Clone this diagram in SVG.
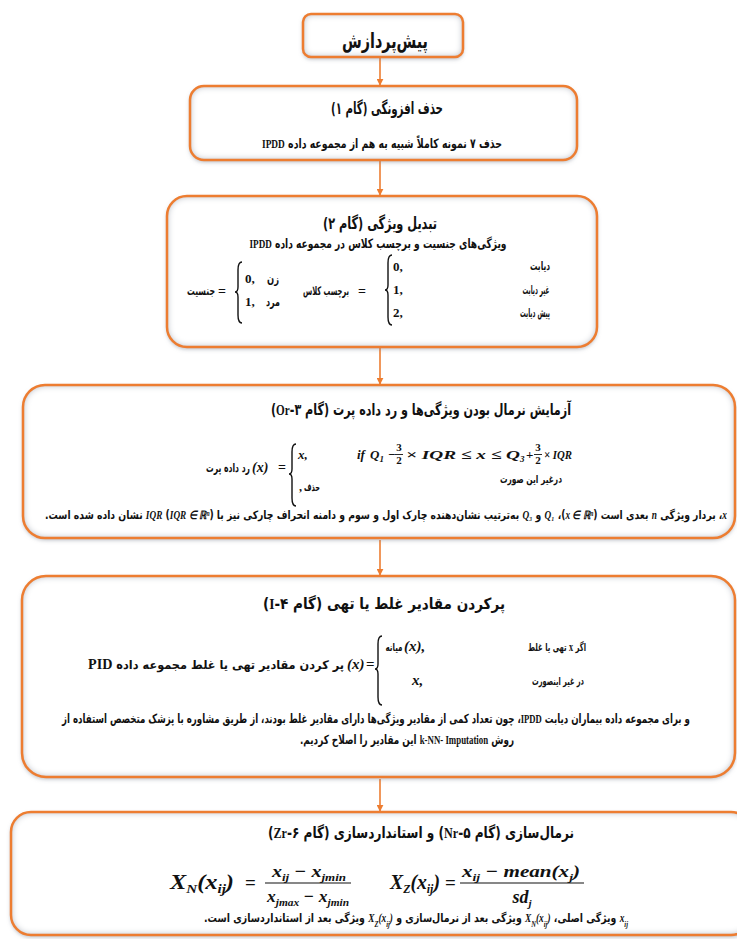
<svg xmlns="http://www.w3.org/2000/svg" width="737" height="939" viewBox="0 0 737 939">
<defs>
<style>
.box{fill:#fff;filter:url(#inset)}
.edge{fill:none;stroke:#ED7D31;stroke-width:2.5}
.fa{font-family:"DejaVu Sans",sans-serif;font-weight:bold;fill:#111;direction:rtl;unicode-bidi:embed}
.m{font-family:"Liberation Serif",serif;font-weight:bold;font-style:italic;fill:#111}
.mr{font-family:"Liberation Serif",serif;font-weight:bold;fill:#111}
.br{fill:none;stroke:#111;stroke-width:1.4}
.conn{stroke:#ED7D31;stroke-width:1.6;fill:none;marker-end:url(#ah)}
</style>
<marker id="ah" viewBox="0 0 10 10" refX="9" refY="5" markerWidth="7" markerHeight="7" markerUnits="userSpaceOnUse" orient="auto"><path d="M0,0 L10,5 L0,10 z" fill="#ED7D31"/></marker>
<filter id="inset" x="-5%" y="-10%" width="110%" height="125%">
<feGaussianBlur in="SourceAlpha" stdDeviation="2" result="b1"/>
<feOffset in="b1" dy="2" result="o1"/>
<feFlood flood-color="#7f8794" flood-opacity="0.6"/>
<feComposite in2="o1" operator="in" result="drop"/>
<feFlood flood-color="#8e99ab" result="c"/>
<feComposite in="c" in2="SourceAlpha" operator="out" result="outside"/>
<feGaussianBlur in="outside" stdDeviation="3.5" result="ob"/>
<feComposite in="ob" in2="SourceAlpha" operator="in" result="inner"/>
<feMerge><feMergeNode in="drop"/><feMergeNode in="SourceGraphic"/><feMergeNode in="inner"/></feMerge>
</filter>
</defs>
<rect width="737" height="939" fill="#fff"/>

<g id="connectors">
<line class="conn" x1="380" y1="57" x2="380" y2="85"/>
<line class="conn" x1="380" y1="160" x2="380" y2="195"/>
<line class="conn" x1="380" y1="347" x2="380" y2="384"/>
<line class="conn" x1="380" y1="540" x2="380" y2="575"/>
<line class="conn" x1="380" y1="779" x2="380" y2="811"/>
</g>

<g id="node-preprocess">
<rect class="box" x="303" y="14" width="160" height="43" rx="8"/>
<rect class="edge" x="303" y="14" width="160" height="43" rx="8"/>
<text class="fa" x="385" y="48" font-size="21" text-anchor="middle" textLength="86" lengthAdjust="spacingAndGlyphs">پیش‌پردازش</text>
</g>

<g id="node-step1">
<rect class="box" x="190" y="86" width="387" height="74" rx="14"/>
<rect class="edge" x="190" y="86" width="387" height="74" rx="14"/>
<text class="fa" x="387" y="114" font-size="16.5" text-anchor="middle" textLength="112" lengthAdjust="spacingAndGlyphs">حذف افزونگی (گام ۱)</text>
<text class="fa" x="382" y="148" font-size="13" text-anchor="middle" textLength="240" lengthAdjust="spacingAndGlyphs">حذف ۷ نمونه کاملاً شبیه به هم از مجموعه داده <tspan class="mr">IPDD</tspan></text>
</g>

<g id="node-step2">
<rect class="box" x="167" y="196" width="430" height="151" rx="20"/>
<rect class="edge" x="167" y="196" width="430" height="151" rx="20"/>
<text class="fa" x="380" y="229" font-size="16.5" text-anchor="middle" textLength="114" lengthAdjust="spacingAndGlyphs">تبدیل ویژگی (گام ۲)</text>
<text class="fa" x="378" y="248" font-size="13" text-anchor="middle" textLength="257" lengthAdjust="spacingAndGlyphs">ویژگی‌های جنسیت و برچسب کلاس در مجموعه داده <tspan class="mr" font-weight="normal">IPDD</tspan></text>
<text class="fa" x="201" y="295" font-size="12" text-anchor="middle" textLength="28" lengthAdjust="spacingAndGlyphs">جنسیت</text>
<text class="mr" x="222" y="296" font-size="14" text-anchor="middle">=</text>
<path class="br" d="M242,262 Q238,262 238,270 L238,287 Q238,292 235,292 Q238,292 238,297 L238,315 Q238,323 242,323"/>
<text class="mr" x="245" y="283" font-size="13" font-weight="normal">0,</text>
<text class="fa" x="273" y="283" font-size="12" text-anchor="middle" textLength="12" lengthAdjust="spacingAndGlyphs">زن</text>
<text class="mr" x="245" y="306" font-size="13" font-weight="normal">1,</text>
<text class="fa" x="273" y="306" font-size="12" text-anchor="middle" textLength="14" lengthAdjust="spacingAndGlyphs">مرد</text>
<text class="fa" x="326" y="295" font-size="12" text-anchor="middle" textLength="46" lengthAdjust="spacingAndGlyphs">برچسب کلاس</text>
<text class="mr" x="362" y="296" font-size="14" text-anchor="middle">=</text>
<path class="br" d="M392,255 Q388,255 388,263 L388,285 Q388,290 385,290 Q388,290 388,295 L388,317 Q388,325 392,325"/>
<text class="mr" x="393" y="271" font-size="13" font-weight="normal">0,</text>
<text class="mr" x="393" y="294" font-size="13" font-weight="normal">1,</text>
<text class="mr" x="393" y="317" font-size="13" font-weight="normal">2,</text>
<text class="fa" x="540" y="270" font-size="12" text-anchor="middle" textLength="20" lengthAdjust="spacingAndGlyphs">دیابت</text>
<text class="fa" x="536" y="294" font-size="12" text-anchor="middle" textLength="27" lengthAdjust="spacingAndGlyphs">غیر دیابت</text>
<text class="fa" x="535" y="317" font-size="12" text-anchor="middle" textLength="30" lengthAdjust="spacingAndGlyphs">پیش دیابت</text>
</g>

<g id="node-step3">
<rect class="box" x="23" y="385" width="712" height="153" rx="22"/>
<rect class="edge" x="23" y="385" width="712" height="153" rx="22"/>
<text class="fa" x="421" y="415" font-size="15.5" text-anchor="middle" textLength="300" lengthAdjust="spacingAndGlyphs">آزمایش نرمال بودن ویژگی‌ها و رد داده پرت (گام ۳-<tspan class="mr">Or</tspan>)</text>
<text class="fa" x="228" y="472" font-size="12" text-anchor="middle" textLength="44" lengthAdjust="spacingAndGlyphs">رد داده پرت</text>
<text class="m" x="252" y="472" font-size="14">(x)</text>
<text class="mr" x="278" y="472" font-size="14">=</text>
<path class="br" d="M296,444 Q292,444 292,452 L292,469 Q292,474 289,474 Q292,474 292,479 L292,498 Q292,506 296,506"/>
<text class="m" x="298" y="459" font-size="13">x,</text>
<text class="m" x="357" y="459" font-size="13">if</text>
<text class="m" x="370" y="459" font-size="13">Q<tspan font-size="9" dy="3">1</tspan></text>
<text class="mr" x="388" y="459" font-size="13">−</text>
<text class="mr" x="399" y="451" font-size="11" text-anchor="middle">3</text>
<line x1="395" y1="454.5" x2="403" y2="454.5" stroke="#111" stroke-width="0.9"/>
<text class="mr" x="399" y="464" font-size="11" text-anchor="middle">2</text>
<text class="m" x="406" y="459" font-size="13" textLength="114" lengthAdjust="spacingAndGlyphs">× IQR ≤ x ≤ Q</text>
<text class="m" x="520" y="462" font-size="9">3</text>
<text class="mr" x="526" y="459" font-size="13">+</text>
<text class="mr" x="538" y="451" font-size="11" text-anchor="middle">3</text>
<line x1="534" y1="454.5" x2="542" y2="454.5" stroke="#111" stroke-width="0.9"/>
<text class="mr" x="538" y="464" font-size="11" text-anchor="middle">2</text>
<text class="m" x="544" y="459" font-size="13" textLength="28" lengthAdjust="spacingAndGlyphs">× IQR</text>
<text class="fa" x="531" y="483" font-size="11" text-anchor="middle" textLength="62" lengthAdjust="spacingAndGlyphs">درغیر این صورت</text>
<text class="mr" x="299" y="491" font-size="12" font-weight="normal">,</text>
<text class="fa" x="312" y="491" font-size="11" text-anchor="middle" textLength="16" lengthAdjust="spacingAndGlyphs">حذف</text>
<text class="fa" x="386" y="519" font-size="11.5" text-anchor="middle" textLength="682" lengthAdjust="spacingAndGlyphs"><tspan class="m">x</tspan>، بردار ویژگی <tspan class="m" font-weight="normal">n</tspan> بعدی است (<tspan class="m">x ∈ ℝⁿ</tspan>)، <tspan class="m">Q₁</tspan> و <tspan class="m">Q₃</tspan> به‌ترتیب نشان‌دهنده چارک اول و سوم و دامنه انحراف چارکی نیز با <tspan class="m">IQR</tspan> (<tspan class="m">IQR ∈ ℝⁿ</tspan>) نشان داده شده است.</text>
</g>

<g id="node-step4">
<rect class="box" x="22" y="576" width="713" height="201" rx="24"/>
<rect class="edge" x="22" y="576" width="713" height="201" rx="24"/>
<text class="fa" x="384" y="609" font-size="15.5" text-anchor="middle" textLength="242" lengthAdjust="spacingAndGlyphs">پرکردن مقادیر غلط یا تهی (گام ۴-<tspan class="mr">I</tspan>)</text>
<text class="fa" x="216" y="669" font-size="12" text-anchor="middle" textLength="256" lengthAdjust="spacingAndGlyphs">پر کردن مقادیر تهی یا غلط مجموعه داده <tspan class="mr" font-size="15">PID</tspan></text>
<text class="m" x="347" y="669" font-size="15">(x)</text>
<text class="mr" x="366" y="669" font-size="15">=</text>
<path class="br" d="M382,636 Q378,636 378,644 L378,664 Q378,669 375,669 Q378,669 378,674 L378,697 Q378,705 382,705"/>
<text class="fa" x="394" y="651" font-size="11" text-anchor="middle" textLength="17" lengthAdjust="spacingAndGlyphs">میانه</text>
<text class="m" x="404" y="651" font-size="15">(x),</text>
<text class="fa" x="557" y="651" font-size="11" text-anchor="middle" textLength="58" lengthAdjust="spacingAndGlyphs">اگر <tspan class="mr" font-size="13">x</tspan> تهی یا غلط</text>
<text class="m" x="412" y="685" font-size="15">x,</text>
<text class="fa" x="558" y="685" font-size="11" text-anchor="middle" textLength="52" lengthAdjust="spacingAndGlyphs">در غیر اینصورت</text>
<text class="fa" x="376" y="723" font-size="12.5" text-anchor="middle" textLength="628" lengthAdjust="spacingAndGlyphs">و برای مجموعه داده بیماران دیابت <tspan class="mr">IPDD</tspan>، چون تعداد کمی از مقادیر ویژگی‌ها دارای مقادیر غلط بودند، از طریق مشاوره با پزشک متخصص استفاده از</text>
<text class="fa" x="407" y="744" font-size="12.5" text-anchor="middle" textLength="214" lengthAdjust="spacingAndGlyphs">روش <tspan class="mr">k-NN- Imputation</tspan> این مقادیر را اصلاح کردیم.</text>
</g>

<g id="node-step56">
<rect class="box" x="11" y="812" width="740" height="123" rx="20"/>
<rect class="edge" x="11" y="812" width="740" height="123" rx="20"/>
<text class="fa" x="421" y="838" font-size="15.5" text-anchor="middle" textLength="306" lengthAdjust="spacingAndGlyphs">نرمال‌سازی (گام ۵-<tspan class="mr">Nr</tspan>) و استانداردسازی (گام ۶-<tspan class="mr">Zr</tspan>)</text>
<text class="m" x="170" y="889" font-size="21" textLength="64" lengthAdjust="spacingAndGlyphs">X<tspan font-size="13" dy="4">N</tspan><tspan dy="-4">(x</tspan><tspan font-size="13" dy="4">ij</tspan><tspan dy="-4">)</tspan></text>
<text class="mr" x="245" y="889" font-size="19">=</text>
<line x1="265" y1="883" x2="351" y2="883" stroke="#111" stroke-width="1.2"/>
<text class="m" x="309" y="877" font-size="17" text-anchor="middle" textLength="74" lengthAdjust="spacingAndGlyphs">x<tspan font-size="11" dy="4">ij</tspan><tspan dy="-4"> − x</tspan><tspan font-size="11" dy="4">jmin</tspan></text>
<text class="m" x="308" y="902" font-size="17" text-anchor="middle" textLength="82" lengthAdjust="spacingAndGlyphs">x<tspan font-size="11" dy="4">jmax</tspan><tspan dy="-4"> − x</tspan><tspan font-size="11" dy="4">jmin</tspan></text>
<text class="m" x="390" y="889" font-size="20" textLength="50" lengthAdjust="spacingAndGlyphs">X<tspan font-size="12" dy="4">Z</tspan><tspan dy="-4">(x</tspan><tspan font-size="12" dy="4">ij</tspan><tspan dy="-4">)</tspan></text>
<text class="mr" x="445" y="889" font-size="19">=</text>
<line x1="460" y1="883" x2="584" y2="883" stroke="#111" stroke-width="1.2"/>
<text class="m" x="521" y="877" font-size="17" text-anchor="middle" textLength="118" lengthAdjust="spacingAndGlyphs">x<tspan font-size="11" dy="4">ij</tspan><tspan dy="-4"> − mean(x</tspan><tspan font-size="11" dy="4">j</tspan><tspan dy="-4">)</tspan></text>
<text class="m" x="522" y="903" font-size="18" text-anchor="middle">sd<tspan font-size="11" dy="4">j</tspan></text>
<text class="fa" x="416" y="922" font-size="11.5" text-anchor="middle" textLength="424" lengthAdjust="spacingAndGlyphs"><tspan class="m" font-weight="normal">x<tspan font-size="8" baseline-shift="sub">ij</tspan></tspan> ویژگی اصلی، <tspan class="m" font-weight="normal">X<tspan font-size="8" baseline-shift="sub">N</tspan>(x<tspan font-size="8" baseline-shift="sub">ij</tspan>)</tspan> ویژگی بعد از نرمال‌سازی و <tspan class="m" font-weight="normal">X<tspan font-size="8" baseline-shift="sub">Z</tspan>(x<tspan font-size="8" baseline-shift="sub">ij</tspan>)</tspan> ویژگی بعد از استانداردسازی است.</text>
</g>
</svg>
